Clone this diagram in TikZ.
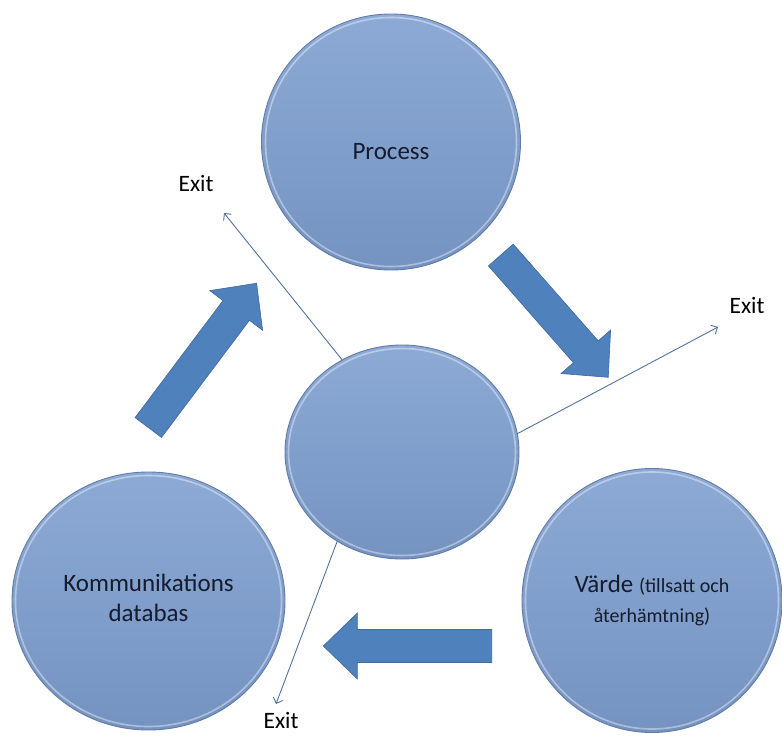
\documentclass[tikz,border=0pt]{standalone}
\usepackage{fontspec}
\setmainfont{Carlito}
\usetikzlibrary{shapes.geometric,arrows.meta}

\definecolor{disctop}{RGB}{141,170,214}
\definecolor{discbot}{RGB}{117,147,193}
\definecolor{discedge}{RGB}{98,124,166}
\definecolor{blockblue}{RGB}{79,129,189}
\definecolor{blockedge}{RGB}{62,104,158}
\definecolor{exitblue}{RGB}{82,114,162}
\definecolor{labelink}{RGB}{20,28,45}

\newcommand{\captionsmall}{\fontsize{20}{28}\selectfont}

\tikzset{
  disc/.style={ellipse, inner sep=0pt, outer sep=0pt,
    top color=disctop, bottom color=discbot, draw=discedge, line width=0.9pt},
  rim/.style={draw=white, draw opacity=0.4, line width=1.6pt},
  disctext/.style={align=center, inner sep=0pt, text=labelink,
    font=\fontsize{25}{30}\selectfont},
  exitlabel/.style={inner sep=0pt, text=black, font=\fontsize{23.5}{28}\selectfont},
  exitline/.style={draw=exitblue, line width=0.9pt,
    -{Straight Barb[length=5pt,width=10pt]}},
  blockarrow/.style={fill=blockblue, draw=blockedge, line width=0.6pt, line join=miter},
  pics/bigarrow/.style={code={
    \path[blockarrow] (0,-16.5) -- (#1-34,-16.5) -- (#1-34,-33) -- (#1,0)
      -- (#1-34,33) -- (#1-34,16.5) -- (0,16.5) -- cycle;}},
}

\begin{document}
\begin{tikzpicture}[x=1pt, y=-1pt]
  \fill[white] (0,0) rectangle (782,736);
  \useasboundingbox (0,0) rectangle (782,736);

  % the three outer discs and the hub in the middle
  \node[disc, minimum width=259pt, minimum height=256pt] (proc) at (391,142) {};
  \node[disc, minimum width=234pt, minimum height=214pt] (hub)  at (402,452) {};
  \node[disc, minimum width=273pt, minimum height=258pt] (komm) at (148.5,601) {};
  \node[disc, minimum width=260pt, minimum height=264pt] (varde) at (652,600.5) {};

  % soft highlight just inside each rim
  \draw[rim] (proc.center)  ellipse [x radius=125.5pt, y radius=124.5pt];
  \draw[rim] (hub.center)   ellipse [x radius=113.5pt, y radius=103.5pt];
  \draw[rim] (komm.center)  ellipse [x radius=133pt, y radius=125.5pt];
  \draw[rim] (varde.center) ellipse [x radius=126.5pt, y radius=128.5pt];

  % disc captions
  \node[disctext] (proctext) at ([yshift=-10pt]proc.center) {Process};
  \node[disctext] (kommtext) at ([yshift=3pt]komm.center) {Kommunikations\\databas};
  \node[disctext] (vardetext) at (varde.center)
    {Värde {\captionsmall(tillsatt och}\\{\captionsmall återhämtning)}};

  % broad arrows running round the cycle
  \pic[rotate=53.1]  at (148.3,427.5) {bigarrow=180.4};
  \pic[rotate=-48.7] at (500.8,255)   {bigarrow=162.8};
  \pic[rotate=180]   at (491.7,646)   {bigarrow=168.4};

  % exits leaving the hub
  \coordinate (exitendA) at (224,213);
  \coordinate (exitendB) at (718,327);
  \coordinate (exitendC) at (276,704);
  \draw[exitline] (hub.123.3) -- (exitendA);
  \draw[exitline] (hub.9.5)   -- (exitendB);
  \draw[exitline] (hub.234.2) -- (exitendC);

  \node[exitlabel] (exitA) at (196,184) {Exit};
  \node[exitlabel] (exitB) at (747,305) {Exit};
  \node[exitlabel] (exitC) at (281,720) {Exit};
\end{tikzpicture}
\end{document}
